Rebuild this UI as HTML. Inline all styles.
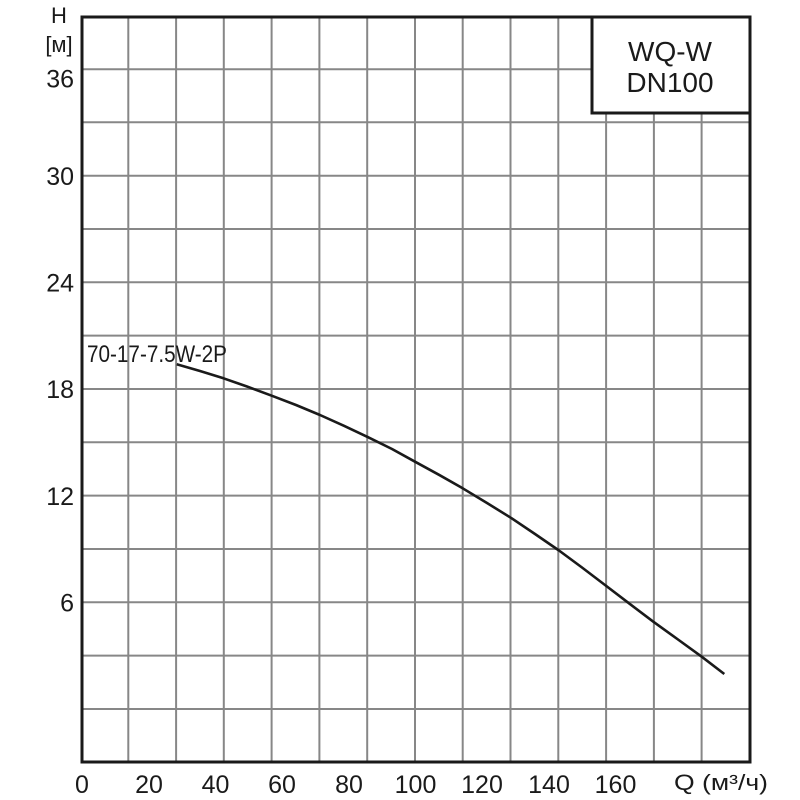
<!DOCTYPE html>
<html><head><meta charset="utf-8"><style>
html,body{margin:0;padding:0;background:#fff;}
svg{display:block;}
text{font-family:"Liberation Sans","DejaVu Sans",sans-serif;fill:#1a1a1a;}
</style></head><body>
<svg width="800" height="800" viewBox="0 0 800 800" xmlns="http://www.w3.org/2000/svg">
<rect width="800" height="800" fill="#fff"/>
<g stroke="#878787" stroke-width="2">
<line x1="128.3" y1="17" x2="128.3" y2="762"/>
<line x1="176.1" y1="17" x2="176.1" y2="762"/>
<line x1="223.8" y1="17" x2="223.8" y2="762"/>
<line x1="271.6" y1="17" x2="271.6" y2="762"/>
<line x1="319.4" y1="17" x2="319.4" y2="762"/>
<line x1="367.2" y1="17" x2="367.2" y2="762"/>
<line x1="415" y1="17" x2="415" y2="762"/>
<line x1="462.7" y1="17" x2="462.7" y2="762"/>
<line x1="510.5" y1="17" x2="510.5" y2="762"/>
<line x1="558.3" y1="17" x2="558.3" y2="762"/>
<line x1="606.1" y1="17" x2="606.1" y2="762"/>
<line x1="653.9" y1="17" x2="653.9" y2="762"/>
<line x1="701.6" y1="17" x2="701.6" y2="762"/>
<line x1="82" y1="69.3" x2="750" y2="69.3"/>
<line x1="82" y1="122.3" x2="750" y2="122.3"/>
<line x1="82" y1="175.7" x2="750" y2="175.7"/>
<line x1="82" y1="229" x2="750" y2="229"/>
<line x1="82" y1="282.3" x2="750" y2="282.3"/>
<line x1="82" y1="335.6" x2="750" y2="335.6"/>
<line x1="82" y1="389" x2="750" y2="389"/>
<line x1="82" y1="442.3" x2="750" y2="442.3"/>
<line x1="82" y1="495.6" x2="750" y2="495.6"/>
<line x1="82" y1="549" x2="750" y2="549"/>
<line x1="82" y1="602.3" x2="750" y2="602.3"/>
<line x1="82" y1="655.6" x2="750" y2="655.6"/>
<line x1="82" y1="709" x2="750" y2="709"/>
</g>
<rect x="82" y="17" width="668" height="745" fill="none" stroke="#1a1a1a" stroke-width="3"/>
<rect x="592" y="17" width="158" height="96" fill="#fff" stroke="#1a1a1a" stroke-width="3"/>
<text x="670" y="61" font-size="28" text-anchor="middle">WQ-W</text>
<text x="670" y="92" font-size="28" text-anchor="middle">DN100</text>
<polyline fill="none" stroke="#1a1a1a" stroke-width="2.6" stroke-linejoin="round" stroke-linecap="butt"
 points="176.7,364.3 200,371 223.5,378.3 247,386.5 271.7,395.7 296,405 320,415 344,425.8 368.3,437.3 392,449 415,461.7 439,474.8 462.7,488.3 487,503 511.7,518.3 535,534 559,550.5 582,567.5 605,585 629,603.3 653.3,621.7 678,639.5 701.7,656.7 724.3,674"/>
<text x="87" y="362" font-size="24" textLength="140" lengthAdjust="spacingAndGlyphs">70-17-7.5W-2P</text>
<g font-size="25" text-anchor="end">
<text x="74" y="87.5">36</text>
<text x="74" y="185">30</text>
<text x="74" y="291.5">24</text>
<text x="74" y="398">18</text>
<text x="74" y="505">12</text>
<text x="74" y="611.5">6</text>
</g>
<text x="59" y="23" font-size="22" text-anchor="middle">H</text>
<text x="59" y="52" font-size="22" text-anchor="middle">[м]</text>
<g font-size="25" text-anchor="middle">
<text x="82" y="793">0</text>
<text x="149" y="793">20</text>
<text x="215.5" y="793">40</text>
<text x="282" y="793">60</text>
<text x="349" y="793">80</text>
<text x="415.5" y="793">100</text>
<text x="482" y="793">120</text>
<text x="549" y="793">140</text>
<text x="615.5" y="793">160</text>
</g>
<text x="674" y="790" font-size="22" textLength="94" lengthAdjust="spacingAndGlyphs">Q (м³/ч)</text>
</svg>
</body></html>
